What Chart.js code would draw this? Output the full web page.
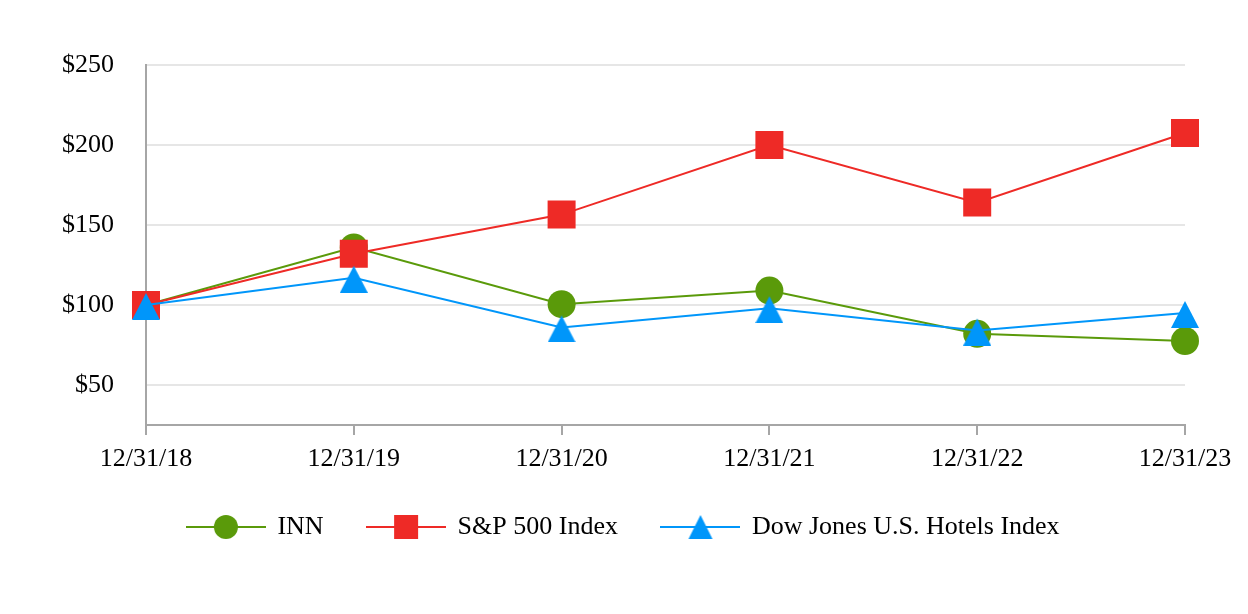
<!DOCTYPE html>
<html>
<head>
<meta charset="utf-8">
<script src="https://cdn.jsdelivr.net/npm/chart.js@4.4.1/dist/chart.umd.min.js"></script>
<style>
  html, body { margin: 0; padding: 0; background: #fff; }
</style>
</head>
<body>
<canvas id="myChart" width="1248" height="614"></canvas>
<script>
const dates = ['12/31/18', '12/31/19', '12/31/20', '12/31/21', '12/31/22', '12/31/23'];
const innValues = [100, 136, 100.5, 109, 82, 77.5];
const spValues = [100, 132, 156.5, 200, 164, 207.5];
const djValues = [100, 117, 86, 98, 84, 95];
const yTickValues = [50, 100, 150, 200, 250];
const seriesNames = ['INN', 'S&P 500 Index', 'Dow Jones U.S. Hotels Index'];

const green = '#5a9a0a';
const red = '#ee2a26';
const blue = '#0096fa';
const axisGray = '#a6a6a6';
const gridGray = '#e6e6e6';
const fontFamily = '"Liberation Serif", "Times New Roman", serif';

// triangle marker, a bit lower than chart.js own one
function triangleMarker(w, h, pad) {
  const c = document.createElement('canvas');
  c.width = w;
  c.height = h + pad;
  const ctx = c.getContext('2d');
  ctx.fillStyle = blue;
  ctx.beginPath();
  ctx.moveTo(w / 2, pad);
  ctx.lineTo(w, h + pad);
  ctx.lineTo(0, h + pad);
  ctx.closePath();
  ctx.fill();
  return c;
}

// little picture for the legend: line with the marker on it
function legendIcon(color, style) {
  const c = document.createElement('canvas');
  c.width = 80;
  c.height = 28;
  const ctx = c.getContext('2d');
  ctx.strokeStyle = color;
  ctx.lineWidth = 2;
  ctx.beginPath();
  ctx.moveTo(0, 14);
  ctx.lineTo(80, 14);
  ctx.stroke();
  ctx.fillStyle = color;
  ctx.beginPath();
  if (style === 'circle') {
    ctx.arc(40, 14, 12, 0, Math.PI * 2);
  } else if (style === 'rect') {
    ctx.rect(28, 2, 24, 24);
  } else {
    ctx.moveTo(40, 2);
    ctx.lineTo(52, 26);
    ctx.lineTo(28, 26);
    ctx.closePath();
  }
  ctx.fill();
  return c;
}

const icons = [legendIcon(green, 'circle'), legendIcon(red, 'rect'), legendIcon(blue, 'triangle')];
const triImg = triangleMarker(28, 27, 3);

new Chart(document.getElementById('myChart'), {
  type: 'line',
  data: {
    labels: dates,
    datasets: [
      {
        label: seriesNames[0],
        data: innValues,
        borderColor: green,
        backgroundColor: green,
        borderWidth: 2,
        pointStyle: 'circle',
        pointRadius: 14,
        pointHoverRadius: 14,
        pointBorderWidth: 0,
        order: 3
      },
      {
        label: seriesNames[1],
        data: spValues,
        borderColor: red,
        backgroundColor: red,
        borderWidth: 2,
        pointStyle: 'rect',
        pointRadius: 19.8,
        pointHoverRadius: 19.8,
        pointBorderWidth: 0,
        order: 2
      },
      {
        label: seriesNames[2],
        data: djValues,
        borderColor: blue,
        backgroundColor: blue,
        borderWidth: 2,
        pointStyle: triImg,
        pointRadius: 15,
        pointHoverRadius: 15,
        pointBorderWidth: 0,
        order: 1
      }
    ]
  },
  options: {
    responsive: false,
    animation: false,
    layout: { padding: { left: 62, right: 63, top: 65, bottom: 64 } },
    plugins: {
      tooltip: { enabled: false },
      legend: {
        position: 'bottom',
        labels: {
          usePointStyle: true,
          pointStyleWidth: 77,
          padding: 44,
          color: '#000',
          font: { family: fontFamily, size: 26 },
          generateLabels: (chart) => chart.data.datasets.map((ds, i) => ({
            text: ds.label,
            fillStyle: ds.backgroundColor,
            strokeStyle: ds.borderColor,
            lineWidth: 0,
            pointStyle: icons[i],
            hidden: !chart.isDatasetVisible(i),
            datasetIndex: i,
            fontColor: '#000'
          }))
        }
      }
    },
    scales: {
      x: {
        afterFit: (scale) => { scale.height = 45; },
        grid: {
          display: true,
          drawOnChartArea: false,
          drawTicks: true,
          tickLength: 10,
          color: axisGray,
          lineWidth: 2
        },
        border: { display: true, color: axisGray, width: 2 },
        ticks: {
          color: '#000',
          padding: 12,
          maxRotation: 0,
          font: { family: fontFamily, size: 26, lineHeight: 0.9 }
        }
      },
      y: {
        min: 25,
        max: 250,
        afterFit: (scale) => { scale.width = 84; },
        afterBuildTicks: (scale) => { scale.ticks = yTickValues.map(v => ({ value: v })); },
        grid: { color: gridGray, lineWidth: 2, drawTicks: false },
        border: { display: true, color: axisGray, width: 2 },
        ticks: {
          color: '#000',
          padding: 32,
          font: { family: fontFamily, size: 26 },
          callback: (v) => '$' + v
        }
      }
    }
  }
});
</script>
</body>
</html>
